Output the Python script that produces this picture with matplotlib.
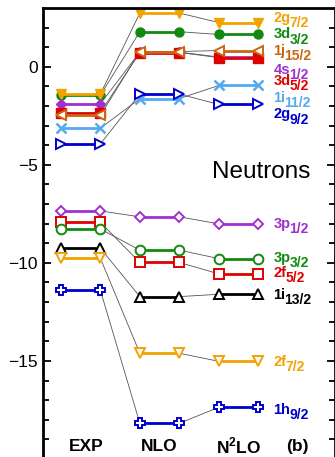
import numpy as np
import matplotlib
matplotlib.use("Agg")
import matplotlib.pyplot as plt

plt.rcParams['font.family'] = ['Liberation Sans', 'DejaVu Sans']
plt.rcParams['mathtext.fontset'] = 'custom'
plt.rcParams['mathtext.bf'] = 'Liberation Sans:bold'
plt.rcParams['mathtext.rm'] = 'Liberation Sans'

# single-particle levels (MeV), neutrons
orbit = ["3d", "2g", "4s", "3d", "1j", "1i", "2g",
         "3p", "2f", "3p", "1i", "2f", "1h"]
jval = ["3/2", "7/2", "1/2", "5/2", "15/2", "11/2", "9/2",
        "1/2", "5/2", "3/2", "13/2", "7/2", "9/2"]
exp = [-1.45, -1.39, -1.89, -2.33, -2.48, -3.13, -3.93,
       -7.35, -7.93, -8.27, -9.25, -9.76, -11.39]
nlo = [1.79, 2.74, 0.75, 0.73, 0.78, -1.62, -1.39,
       -7.65, -9.98, -9.35, -11.72, -14.61, -18.18]
n2lo = [1.65, 2.26, 0.50, 0.47, 0.83, -0.95, -1.92,
        -8.01, -10.56, -9.78, -11.60, -15.02, -17.36]
label_pos = [1.55, 2.4, -0.24, -0.83, 0.7, -1.68, -2.53,
             -8.11, -10.61, -9.85, -11.75, -15.15, -17.59]

colors = ['#128A12', '#F2A300', '#A030D0', '#E00000', '#CC6611', '#55AAEE', '#0000CC',
          '#A030D0', '#E00000', '#128A12', '#000000', '#F2A300', '#0000CC']
markers = ['o', 'v', 'D', 's', '<', 'x', '>', 'D', 's', 'o', '^', 'v', 'P']
filled = [True, True, True, True, False, True, False,
          False, False, False, False, False, False]

cols = [(0, 1), (2, 3), (4, 5)]

fig = plt.figure(figsize=(3.35, 4.57), dpi=100)
ax = fig.add_axes([0.127, 0.0, 0.873, 0.9825])

for i in range(len(orbit)):
    vals = [exp[i], nlo[i], n2lo[i]]
    c = colors[i]
    for k in range(2):
        ax.plot([cols[k][1], cols[k + 1][0]], [vals[k], vals[k + 1]],
                color='#555555', lw=0.6, zorder=1)
    for k in range(3):
        if markers[i] == 'x':
            ax.plot(cols[k], [vals[k]] * 2, color=c, lw=2, marker='x', ms=7, mew=1.8,
                    zorder=2 + i * 0.1)
        elif filled[i]:
            ax.plot(cols[k], [vals[k]] * 2, color=c, lw=2, marker=markers[i],
                    ms=6.5 if markers[i] != 'D' else 5.5, zorder=2 + i * 0.1)
        else:
            ax.plot(cols[k], [vals[k]] * 2, color=c, lw=2, marker=markers[i],
                    ms=7 if markers[i] != 'D' else 5.5, mfc='white', mew=1.4,
                    zorder=2 + i * 0.1)
    t = ax.text(5.38, label_pos[i] + 0.1, orbit[i], color=c, fontsize=10.5,
                fontweight='bold', va='center', ha='left')
    ax.annotate(jval[i], xy=(1, 0), xycoords=t, xytext=(-0.8, 1.4),
                textcoords='offset points', color=c, fontsize=10,
                fontweight='bold', va='center', ha='left')

ax.text(5.06, -5.36, "Neutrons", fontsize=17.5, ha='center', va='center')
for x, s in [(0.65, "EXP"), (2.5, "NLO"), (4.5, r"N$^{\mathbf{2}}$LO"), (6.0, "(b)")]:
    ax.text(x, -19.35, s, fontsize=12.5, fontweight='bold', ha='center', va='center')

ax.set_xlim(-0.463, 6.94)
ax.set_ylim(-19.9, 3.0)
ax.set_yticks([-15, -10, -5, 0])
ax.set_yticks(np.arange(-19, 3), minor=True)
ax.set_xticks([])
ax.tick_params(axis='y', which='both', direction='in', left=True, right=True,
               labelsize=12.5, width=1.3)
ax.tick_params(axis='y', which='major', length=6)
ax.tick_params(axis='y', which='minor', length=4)
for sp in ['left', 'top', 'right']:
    ax.spines[sp].set_linewidth(2)
ax.spines['bottom'].set_visible(False)

fig.savefig("out.png", dpi=100)
